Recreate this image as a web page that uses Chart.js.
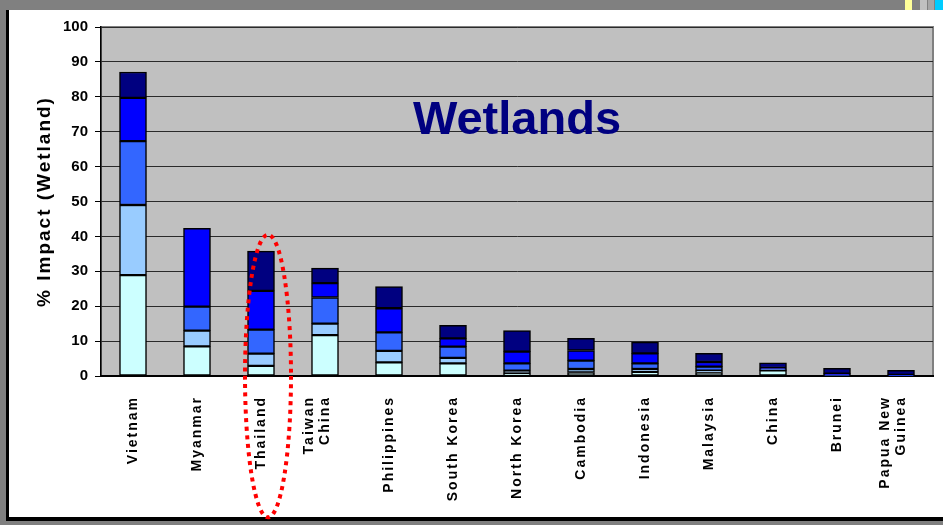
<!DOCTYPE html>
<html>
<head>
<meta charset="utf-8">
<title>Wetlands</title>
<script src="https://cdn.jsdelivr.net/npm/chart.js@4.4.1/dist/chart.umd.min.js"></script>
<style>
  html, body { margin: 0; padding: 0; }
  body { width: 943px; height: 525px; background: #808080; position: relative; overflow: hidden; }
  #panel { position: absolute; left: 6px; top: 10px; width: 934px; height: 507px; background: #fff;
           border-left: 3px solid #000; border-bottom: 4px solid #000; }
  .sq { position: absolute; top: 0; height: 10px; }
  canvas { position: absolute; left: 0; top: 0; }
</style>
</head>
<body>
<div id="panel"></div>
<div class="sq" style="left:905px;width:7px;background:#ffff99"></div>
<div class="sq" style="left:920px;width:7px;background:#c0c0c0"></div>
<div class="sq" style="left:928px;width:6px;background:#a6a6a6"></div>
<div class="sq" style="left:935px;width:8px;background:#00ccff"></div>
<canvas id="wetlandsChart" width="943" height="525"></canvas>
<script>
// =========================
// Datos
// =========================
const categories = [
  "Vietnam", "Myanmar", "Thailand", ["Taiwan", "China"], "Philippines",
  "South Korea", "North Korea", "Cambodia", "Indonesia", "Malaysia",
  "China", "Brunei", ["Papua New", "Guinea"]
];

// capas apiladas, de abajo hacia arriba
const band1 = [28.9, 8.5, 2.9, 11.7, 3.9, 3.6, 0.8, 1.0, 1.2, 1.0, 1.6, 0, 0];
const band2 = [20.1, 4.5, 3.5, 3.3, 3.3, 1.6, 0.7, 1.0, 0.8, 0.5, 0.2, 0, 0];
const band3 = [18.3, 6.9, 6.9, 7.5, 5.3, 3.2, 2.1, 2.4, 1.6, 1.2, 0.2, 0.2, 0.1];
const band4 = [12.4, 22.4, 11.1, 4.1, 6.9, 2.4, 3.4, 2.9, 2.9, 1.3, 0.3, 0.5, 0.2];
const band5 = [7.4, 0, 11.4, 4.3, 6.2, 3.7, 6.0, 3.5, 3.2, 2.5, 1.5, 1.5, 1.3];

const yTickValues = [0, 10, 20, 30, 40, 50, 60, 70, 80, 90, 100];
const highlighted = "Thailand";

const bandColors = ["#ccffff", "#99ccff", "#3366ff", "#0000ff", "#000080"];
const FONT = "'Liberation Sans', Arial, sans-serif";

// =========================
// Plugin: fondo gris, título interior y elipse roja
// =========================
const wetlandsDecor = {
  id: "wetlandsDecor",
  beforeDraw(chart) {
    const { ctx, chartArea: a } = chart;
    ctx.save();
    ctx.fillStyle = "#c0c0c0";
    ctx.fillRect(a.left, a.top, a.right - a.left, a.bottom - a.top);
    ctx.strokeStyle = "#808080";
    ctx.lineWidth = 2;
    ctx.strokeRect(a.left, a.top, a.right - a.left, a.bottom - a.top);
    ctx.restore();

    // espaciado de letras en etiquetas del eje x y título del eje y
    const xs = chart.scales.x;
    if (!xs._spaced) {
      const origLabels = xs.drawLabels;
      xs.drawLabels = function (area) {
        this.ctx.save();
        this.ctx.letterSpacing = "2px";
        origLabels.call(this, area);
        this.ctx.restore();
      };
      // centrar las etiquetas de dos líneas sobre su barra
      const origItems = xs._computeLabelItems;
      xs._computeLabelItems = function (area) {
        const items = origItems.call(this, area);
        items.forEach(it => {
          if (Array.isArray(it.label)) {
            it.textOffset = -it.font.lineHeight * (it.label.length - 1) / 2;
          }
        });
        return items;
      };
      xs._labelItems = null;
      xs._spaced = true;
    }
    const ys = chart.scales.y;
    if (!ys._spaced) {
      const origTitle = ys.drawTitle;
      ys.drawTitle = function () {
        this.ctx.save();
        this.ctx.letterSpacing = "2px";
        origTitle.call(this);
        this.ctx.restore();
      };
      ys._spaced = true;
    }
  },
  afterDraw(chart) {
    const { ctx, chartArea: a, scales } = chart;
    ctx.save();
    ctx.fillStyle = "#000080";
    ctx.font = `bold 47px ${FONT}`;
    ctx.textAlign = "center";
    ctx.textBaseline = "alphabetic";
    ctx.fillText("Wetlands", (a.left + a.right) / 2, a.top + 107);

    // elipse punteada alrededor de Thailand
    const idx = categories.indexOf(highlighted);
    const cx = scales.x.getPixelForValue(idx) + 7;
    const cy = scales.y.getPixelForValue(0);
    const ry = cy - scales.y.getPixelForValue(40.5);
    ctx.strokeStyle = "#ff0000";
    ctx.lineWidth = 4;
    ctx.setLineDash([4, 4.5]);
    ctx.beginPath();
    ctx.ellipse(cx, cy, 23, ry, 0, 0, Math.PI * 2);
    ctx.stroke();
    ctx.restore();
  }
};

const mkBand = (label, data, i) => ({
  label,
  data,
  backgroundColor: bandColors[i],
  borderColor: "#000000",
  borderWidth: 1.5,
  borderSkipped: false,
  barThickness: 27
});

new Chart(document.getElementById("wetlandsChart"), {
  type: "bar",
  data: {
    labels: categories,
    datasets: [
      mkBand("band1", band1, 0),
      mkBand("band2", band2, 1),
      mkBand("band3", band3, 2),
      mkBand("band4", band4, 3),
      mkBand("band5", band5, 4)
    ]
  },
  options: {
    responsive: false,
    animation: false,
    devicePixelRatio: 1,
    layout: { padding: { top: 27, right: 10, left: 0, bottom: 0 } },
    plugins: {
      legend: { display: false },
      tooltip: { enabled: false }
    },
    scales: {
      x: {
        stacked: true,
        afterFit(scale) {
          scale.height = 149;
          scale.paddingLeft = 0;
          scale.paddingRight = 0;
        },
        grid: { display: false, drawTicks: false },
        border: { display: true, color: "#000000", width: 2 },
        ticks: {
          minRotation: 90,
          maxRotation: 90,
          autoSkip: false,
          padding: 20,
          color: "#000000",
          font: { family: FONT, size: 14, weight: "bold", lineHeight: 1.15 }
        }
      },
      y: {
        stacked: true,
        min: 0,
        max: 100,
        afterFit(scale) {
          scale.width = 101;
          scale.paddingTop = 0;
          scale.paddingBottom = 0;
        },
        afterBuildTicks(scale) { scale.ticks = yTickValues.map(v => ({ value: v })); },
        grid: { color: "#2a2a2a", lineWidth: 1, tickLength: 6, tickColor: "#000000" },
        border: { display: true, color: "#000000", width: 1.5 },
        ticks: {
          padding: 7,
          color: "#000000",
          font: { family: FONT, size: 15, weight: "bold" }
        },
        title: {
          display: true,
          text: "% Impact (Wetland)",
          color: "#000000",
          padding: { top: 33, bottom: 0 },
          font: { family: FONT, size: 19, weight: "bold" }
        }
      }
    }
  },
  plugins: [wetlandsDecor]
});
</script>
</body>
</html>
